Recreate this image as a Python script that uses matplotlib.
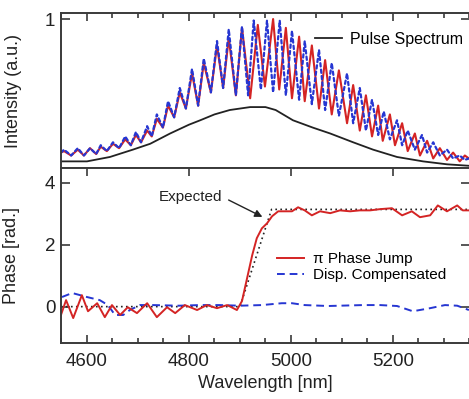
import matplotlib
matplotlib.use("Agg")
import matplotlib.pyplot as plt
from matplotlib.ticker import MultipleLocator
import numpy as np

plt.rcParams['font.family'] = ['Liberation Sans', 'DejaVu Sans']

############   DATA   #############
# top panel : fringe extrema of the interferograms (wavelength nm, intensity a.u.)
wl_jump = [4549, 4555, 4569, 4582, 4594, 4606, 4618, 4627, 4639, 4651, 4663, 4675, 4686, 4696,
           4706, 4718, 4727, 4737, 4749, 4759, 4771, 4782, 4794, 4806, 4818, 4829, 4843, 4855,
           4867, 4878, 4892, 4904, 4920, 4935, 4949, 4965, 4977, 4990, 5002, 5016, 5027, 5041,
           5055, 5067, 5080, 5094, 5110, 5122, 5135, 5147, 5159, 5171, 5180, 5194, 5204, 5218,
           5229, 5243, 5253, 5267, 5279, 5292, 5306, 5318, 5331, 5341, 5349]
int_jump = [0.09, 0.10, 0.07, 0.11, 0.07, 0.12, 0.08, 0.13, 0.10, 0.15, 0.12, 0.18, 0.14, 0.21,
            0.16, 0.24, 0.20, 0.32, 0.26, 0.41, 0.33, 0.50, 0.39, 0.63, 0.41, 0.70, 0.50, 0.82,
            0.53, 0.87, 0.48, 0.94, 0.46, 0.96, 0.54, 1.00, 0.52, 0.94, 0.46, 0.88, 0.44, 0.82,
            0.39, 0.72, 0.35, 0.65, 0.29, 0.55, 0.24, 0.48, 0.20, 0.41, 0.17, 0.35, 0.14, 0.29,
            0.10, 0.22, 0.07, 0.17, 0.05, 0.12, 0.04, 0.09, 0.03, 0.07, 0.05]

wl_comp = [4549, 4555, 4569, 4582, 4594, 4606, 4618, 4627, 4639, 4651, 4663, 4675, 4686, 4696,
           4706, 4718, 4727, 4737, 4749, 4759, 4771, 4782, 4794, 4806, 4818, 4829, 4843, 4855,
           4867, 4878, 4892, 4904, 4916, 4927, 4941, 4953, 4965, 4978, 4990, 5002, 5016, 5027,
           5041, 5055, 5067, 5080, 5094, 5110, 5122, 5135, 5147, 5159, 5171, 5182, 5194, 5208,
           5218, 5229, 5243, 5257, 5267, 5279, 5292, 5306, 5318, 5331, 5341, 5349]
int_comp = [0.09, 0.11, 0.07, 0.12, 0.07, 0.12, 0.08, 0.14, 0.10, 0.16, 0.12, 0.20, 0.14, 0.23,
            0.16, 0.27, 0.20, 0.35, 0.26, 0.44, 0.33, 0.53, 0.39, 0.66, 0.41, 0.73, 0.50, 0.85,
            0.53, 0.93, 0.48, 0.95, 0.48, 0.99, 0.52, 0.99, 0.50, 0.99, 0.48, 0.92, 0.45, 0.85,
            0.42, 0.79, 0.38, 0.70, 0.34, 0.63, 0.29, 0.53, 0.24, 0.45, 0.21, 0.37, 0.18, 0.31,
            0.14, 0.24, 0.11, 0.21, 0.09, 0.16, 0.07, 0.11, 0.05, 0.07, 0.04, 0.05]

wl_spec = [4549, 4600, 4645, 4690, 4724, 4763, 4800, 4822, 4850, 4880, 4920, 4950, 4970,
           5004, 5043, 5077, 5122, 5161, 5208, 5259, 5306, 5349]
int_spec = [0.03, 0.03, 0.06, 0.11, 0.15, 0.22, 0.28, 0.31, 0.35, 0.38, 0.40, 0.40, 0.38,
            0.31, 0.26, 0.22, 0.16, 0.11, 0.06, 0.03, 0.01, 0.00]

# bottom panel : retrieved spectral phase (rad.)
wl_ph_jump = [4549, 4559, 4573, 4590, 4602, 4620, 4635, 4649, 4665, 4680, 4698, 4718, 4737,
              4757, 4773, 4792, 4816, 4835, 4855, 4875, 4894, 4904, 4914, 4924, 4933, 4943,
              4953, 4963, 4975, 4988, 5002, 5014, 5027, 5041, 5057, 5077, 5096, 5116, 5135,
              5155, 5175, 5198, 5218, 5237, 5253, 5273, 5288, 5306, 5326, 5337, 5349]
ph_jump = [-0.27, 0.21, -0.37, 0.37, -0.15, 0.11, -0.34, 0.05, -0.27, -0.02, -0.21, 0.11, -0.34,
           -0.02, -0.21, 0.05, -0.11, 0.05, -0.05, 0.05, -0.11, 0.18, 0.92, 1.66, 2.21, 2.53,
           2.69, 2.92, 3.08, 3.08, 3.08, 3.21, 3.11, 2.95, 3.08, 3.02, 3.11, 3.08, 3.11,
           3.11, 3.15, 3.18, 2.95, 3.08, 2.89, 2.95, 3.27, 3.08, 3.27, 3.11, 3.11]

wl_ph_comp = [4551, 4571, 4600, 4625, 4641, 4655, 4671, 4684, 4704, 4729, 4780, 4822, 4860,
              4900, 4943, 4982, 5002, 5027, 5073, 5141, 5175, 5208, 5239, 5273, 5302, 5326, 5349]
ph_comp = [0.31, 0.44, 0.31, 0.21, 0.05, -0.27, -0.27, -0.11, 0.05, 0.05, 0.03, 0.05, 0.05,
           0.03, 0.05, 0.11, 0.11, 0.05, 0.02, 0.05, 0.05, 0.02, -0.15, -0.05, 0.05, 0.03, -0.11]

wl_expected = [4549, 4900, 4962, 5351]
ph_expected = [0, 0, np.pi, np.pi]

red = "#d42424"
blue = "#2636d2"
spine_col = "#3a3a3a"

#--- figure ---
fig = plt.figure(figsize=(4.69, 3.99), dpi=100)
ax1 = fig.add_axes([0.130, 0.579, 0.872, 0.388])
ax2 = fig.add_axes([0.130, 0.140, 0.872, 0.439])

ax1.plot(wl_spec, int_spec, color="#222222", lw=1.3, label="Pulse Spectrum")
ax1.plot(wl_jump, int_jump, color=red, lw=1.5, solid_joinstyle='round')
ax1.plot(wl_comp, int_comp, color=blue, lw=1.6, ls=(0, (1.5, 1.4)), dash_capstyle='round')
ax1.set_xlim(4549, 5351)
ax1.set_ylim(-0.015, 1.04)
ax1.set_yticks([1])
ax1.set_yticklabels(["1"])
ax1.set_ylabel("Intensity (a.u.)", fontsize=13, color="#222222")
ax1.yaxis.set_label_coords(-0.095, 0.5)
ax1.legend(loc="upper left", bbox_to_anchor=(0.621, 0.88), frameon=False, fontsize=11.5,
           handlelength=1.7, handletextpad=0.5, borderpad=0, borderaxespad=0)

ax2.plot(wl_expected, ph_expected, color="#222222", lw=1.2, ls=(0, (1, 2)))
ax2.plot(wl_ph_comp, ph_comp, color=blue, lw=1.4, ls=(0, (4, 2.5)), label="Disp. Compensated")
ax2.plot(wl_ph_jump, ph_jump, color=red, lw=1.4, solid_joinstyle='round', label="\u03c0 Phase Jump")
ax2.set_xlim(4549, 5351)
ax2.set_ylim(-1.18, 4.48)
ax2.set_yticks([0, 2, 4])
ax2.set_xticks([4600, 4800, 5000, 5200])
ax2.set_xlabel("Wavelength [nm]", fontsize=13, color="#222222", labelpad=4)
ax2.set_ylabel("Phase [rad.]", fontsize=13, color="#222222")
ax2.yaxis.set_label_coords(-0.10, 0.5)
h, l = ax2.get_legend_handles_labels()
ax2.legend(h[::-1], l[::-1], loc="upper left", bbox_to_anchor=(0.528, 0.52), frameon=False,
           fontsize=11, handlelength=1.75, handletextpad=0.6, labelspacing=0.15,
           borderpad=0, borderaxespad=0)
ax2.annotate("Expected", xy=(4944, 2.9), xytext=(4865, 3.55), ha="right", va="center",
             fontsize=11, color="#222222",
             arrowprops=dict(arrowstyle="-|>", color="#222222", lw=1.0, mutation_scale=11,
                             shrinkA=3, shrinkB=0, relpos=(1.0, 0.5)))

for ax in (ax1, ax2):
    ax.xaxis.set_major_locator(MultipleLocator(200))
    ax.xaxis.set_minor_locator(MultipleLocator(50))
    for s in ax.spines.values():
        s.set_color(spine_col)
        s.set_linewidth(1.4)
    ax.tick_params(which="both", direction="in", color=spine_col, width=1.2,
                   labelsize=13.5, labelcolor="#222222")
    ax.tick_params(which="major", length=6)
    ax.tick_params(which="minor", length=3.5)
    ax.tick_params(axis="y", which="major", left=True, right=True, length=6.5, pad=4)

ax1.tick_params(axis="x", which="both", top=True, bottom=False, labelbottom=False)
ax2.tick_params(axis="x", which="major", top=True, bottom=True, pad=7)
ax2.tick_params(axis="x", which="minor", top=False, bottom=True)

fig.savefig("out.png", dpi=100)
